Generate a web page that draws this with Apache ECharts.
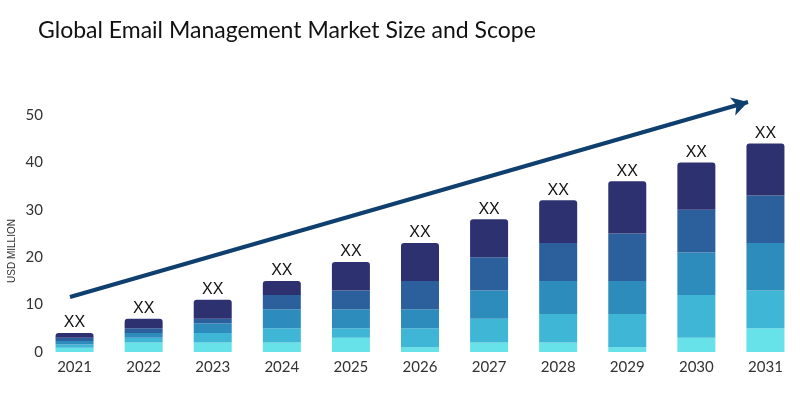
<!DOCTYPE html>
<html>
<head>
<meta charset="utf-8">
<script src="https://cdn.jsdelivr.net/npm/echarts@6/dist/echarts.min.js"></script>
<style>html,body{margin:0;padding:0;background:#fff}#c{width:800px;height:400px}</style>
</head>
<body>
<div id="c"></div>
<script>
const years = ['2021','2022','2023','2024','2025','2026','2027','2028','2029','2030','2031'];
// stacked segments, bottom to top
const seg1 = [0.9, 2, 2, 2, 3, 1, 2, 2, 1, 3, 5];
const seg2 = [0.7, 1, 2, 3, 2, 4, 5, 6, 7, 9, 8];
const seg3 = [0.7, 1, 2, 4, 4, 4, 6, 7, 7, 9, 10];
const seg4 = [0.7, 1, 1, 3, 4, 6, 7, 8, 10, 9, 10];
const seg5 = [1, 2, 4, 3, 6, 8, 8, 9, 11, 10, 11];
const yTicks = [0, 10, 20, 30, 40, 50];
const barLabel = 'XX';
const colors = ['#66e2e8', '#3fb6d6', '#2e8cbc', '#2b609c', '#2e3170'];

const segs = [seg1, seg2, seg3, seg4, seg5];
const series = segs.map((d, i) => ({
  type: 'bar',
  stack: 'total',
  data: d,
  barWidth: '55%',
  itemStyle: { color: colors[i], borderRadius: i === 4 ? [3, 3, 0, 0] : 0 },
  label: i === 4 ? {
    show: true, position: 'top', formatter: barLabel, distance: 2,
    color: '#111', fontSize: 16, fontFamily: 'Liberation Sans'
  } : { show: false }
}));
series.push({
  type: 'line', data: [], silent: true,
  markLine: {
    silent: true,
    symbol: ['none', 'arrow'],
    symbolSize: [14, 16],
    lineStyle: { color: '#0f3f6e', width: 4, type: 'solid' },
    label: { show: false },
    data: [[{ x: 70, y: 297 }, { x: 748, y: 102 }]]
  }
});

const chart = echarts.init(document.getElementById('c'), null, { renderer: 'canvas' });
chart.setOption({
  animation: false,
  title: {
    text: 'Global Email Management Market Size and Scope',
    left: 33, top: 14,
    textStyle: { fontFamily: 'Lato', fontWeight: 'normal', fontSize: 23, color: '#111' }
  },
  grid: { left: 40, right: 0, top: 115, bottom: 48 },
  xAxis: {
    type: 'category', data: years,
    axisLine: { show: false }, axisTick: { show: false },
    axisLabel: { color: '#333', fontSize: 15, fontFamily: 'Lato', margin: 8 }
  },
  yAxis: {
    type: 'value', min: yTicks[0], max: yTicks[yTicks.length - 1], interval: 10,
    splitLine: { show: false }, axisLine: { show: false }, axisTick: { show: false },
    axisLabel: { color: '#333', fontSize: 15, fontFamily: 'Lato', margin: -3 }
  },
  graphic: [{
    type: 'text', x: 12, y: 251, rotation: Math.PI / 2,
    style: { text: 'USD MILLION', fontSize: 10, fontFamily: 'Liberation Sans', fill: '#333',
             textAlign: 'center', textVerticalAlign: 'middle' }
  }],
  series: series
});
</script>
</body>
</html>
